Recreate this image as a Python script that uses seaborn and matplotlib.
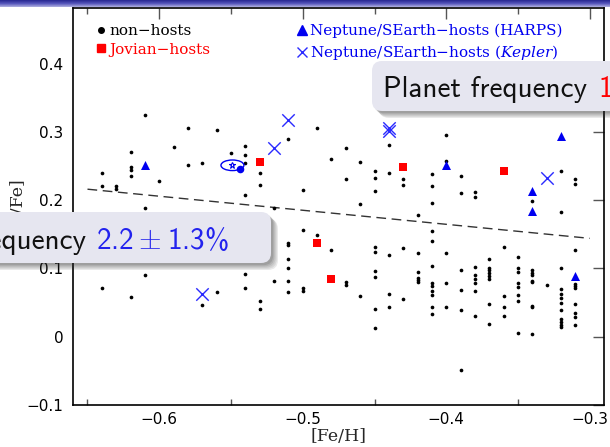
import numpy as np
import pandas as pd
import matplotlib
matplotlib.use("Agg")
import matplotlib.pyplot as plt
import seaborn as sns
from matplotlib.lines import Line2D
from matplotlib.patches import Ellipse, FancyBboxPatch
from matplotlib.ticker import MultipleLocator
from matplotlib.colors import LinearSegmentedColormap

# ---------------- data ----------------
# non-host stars, grouped by [Fe/H] column
nonhost_feh_cols = [-0.64, -0.63, -0.62, -0.61, -0.60, -0.59, -0.58, -0.57, -0.56, -0.55,
                    -0.54, -0.53, -0.52, -0.51, -0.50, -0.49, -0.48, -0.47, -0.46, -0.45,
                    -0.44, -0.43, -0.42, -0.41, -0.40, -0.39, -0.38, -0.37, -0.36, -0.35,
                    -0.34, -0.33, -0.32, -0.31]
nonhost_tife_cols = [
    [0.240, 0.220, 0.072],
    [0.221, 0.216],
    [0.271, 0.248, 0.244, 0.235, 0.058],
    [0.325, 0.188, 0.090],
    [0.228],
    [0.278],
    [0.306, 0.251],
    [0.254, 0.047],
    [0.302, 0.066],
    [0.269],
    [0.279, 0.266, 0.254, 0.208, 0.092, 0.072],
    [0.240, 0.222, 0.053, 0.040],
    [0.188, 0.082],
    [0.289, 0.137, 0.134, 0.114, 0.100, 0.082, 0.065],
    [0.215, 0.156, 0.071, 0.067],
    [0.306, 0.149],
    [0.260, 0.127],
    [0.276, 0.231, 0.080, 0.076],
    [0.256, 0.195, 0.059],
    [0.242, 0.232, 0.213, 0.132, 0.124, 0.096, 0.087, 0.040, 0.013],
    [0.280, 0.240, 0.119, 0.062, 0.043],
    [0.231, 0.222, 0.130, 0.055],
    [0.178, 0.122, 0.095, 0.086, 0.083, 0.080],
    [0.238, 0.220, 0.196, 0.155, 0.140, 0.104, 0.078, 0.074, 0.067, 0.061, 0.043, 0.033],
    [0.295, 0.257, 0.123, 0.078, 0.044],
    [0.235, 0.211, 0.098, 0.069, 0.039, -0.049],
    [0.212, 0.204, 0.102, 0.091, 0.084, 0.078, 0.067, 0.031],
    [0.114, 0.100, 0.097, 0.093, 0.089, 0.085, 0.048, 0.019],
    [0.131, 0.059, 0.044, 0.030],
    [0.116, 0.100, 0.095, 0.079, 0.073, 0.061, 0.052, 0.005],
    [0.198, 0.098, 0.094, 0.091, 0.082, 0.080, 0.045, 0.043, 0.004],
    [0.075],
    [0.242, 0.182, 0.100, 0.070, 0.062, 0.056, 0.050, 0.039, 0.026, 0.021, 0.017, 0.014],
    [0.231, 0.223, 0.127, 0.077, 0.074, 0.071, 0.048, 0.034, 0.029, 0.017],
]

jovian_feh = [-0.53, -0.43, -0.36, -0.49, -0.48]
jovian_tife = [0.256, 0.249, 0.242, 0.137, 0.085]

harps_feh = [-0.61, -0.40, -0.34, -0.34, -0.32, -0.31]
harps_tife = [0.251, 0.251, 0.214, 0.184, 0.294, 0.089]

kepler_feh = [-0.51, -0.52, -0.44, -0.44, -0.33, -0.57]
kepler_tife = [0.317, 0.276, 0.306, 0.301, 0.232, 0.062]

special_feh = [-0.544]
special_tife = [0.245]
special_star_feh = [-0.549]
special_star_tife = [0.251]

trend_feh = [-0.65, -0.30]
trend_tife = [0.216, 0.144]

legend_labels = ["non\u2212hosts", "Jovian\u2212hosts",
                 "Neptune/SEarth\u2212hosts (HARPS)",
                 "Neptune/SEarth\u2212hosts ($\\mathit{Kepler}$)"]

x_ticks = [-0.6, -0.5, -0.4, -0.3]
y_ticks = [-0.1, 0.0, 0.1, 0.2, 0.3, 0.4]

# ---------------- styling ----------------
sns.set_style("white")
plt.rcParams["font.family"] = ["DejaVu Sans"]
plt.rcParams["mathtext.fontset"] = "dejavuserif"

W, H = 610, 447
fig = plt.figure(figsize=(W / 100, H / 100), dpi=100)
fig.patch.set_facecolor("white")
ax = fig.add_axes([73 / W, 1 - 405 / H, 531 / W, 397 / H])

nh_x = [f for f, col in zip(nonhost_feh_cols, nonhost_tife_cols) for _ in col]
nh_y = [v for col in nonhost_tife_cols for v in col]
df_nh = pd.DataFrame({"feh": nh_x, "tife": nh_y})

BLUE = "#0000f0"
sns.scatterplot(data=df_nh, x="feh", y="tife", ax=ax, color="black", s=7,
                linewidth=0, marker="o", legend=False, zorder=3)
sns.lineplot(x=trend_feh, y=trend_tife, ax=ax, color="#333333", lw=1.0,
             dashes=False, zorder=2)
ax.lines[-1].set_dashes([7, 4])
sns.scatterplot(x=jovian_feh, y=jovian_tife, ax=ax, color="#ff0000", marker="s",
                s=30, linewidth=0, legend=False, zorder=4)
sns.scatterplot(x=harps_feh, y=harps_tife, ax=ax, color=BLUE, marker="^",
                s=42, linewidth=0, legend=False, zorder=4)
sns.scatterplot(x=kepler_feh, y=kepler_tife, ax=ax, color="#2a2aff", marker="x",
                s=80, linewidth=1.0, legend=False, zorder=4)
sns.scatterplot(x=special_feh, y=special_tife, ax=ax, color=BLUE, marker="o",
                s=30, linewidth=0, legend=False, zorder=5)
ax.plot(special_star_feh, special_star_tife, marker="*", ms=5, mfc="none",
        mec=BLUE, mew=0.8, ls="none", zorder=5)
ax.add_patch(Ellipse((special_star_feh[0], special_star_tife[0]), 0.016, 0.0155,
                     fill=False, ec=BLUE, lw=1.0, zorder=5))

ax.set_xlim(-0.6601, -0.2901)
ax.set_ylim(-0.1, 0.4813)
ax.set_xticks(x_ticks)
ax.set_yticks(y_ticks)
ax.xaxis.set_minor_locator(MultipleLocator(0.05))
ax.set_xticklabels([f"{t:g}".replace("-", "\u2212") for t in x_ticks])
ax.set_yticklabels([("0" if t == 0 else f"{t:g}").replace("-", "\u2212") for t in y_ticks])
ax.tick_params(which="major", direction="in", length=8, width=1.0, color="#555555",
               top=True, right=True, labelsize=11, labelcolor="black")
ax.tick_params(axis="y", pad=7)
ax.tick_params(axis="x", pad=5)
ax.tick_params(which="minor", direction="in", length=4.5, width=1.0, color="#555555",
               top=True, bottom=True)
ax.tick_params(axis="y", which="minor", left=False, right=False)
for sp in ax.spines.values():
    sp.set_linewidth(1.2)
    sp.set_color("black")
ax.set_xlabel("[Fe/H]", family="DejaVu Serif", fontsize=12.5, labelpad=1)
ax.set_ylabel("[Ti/Fe]", family="DejaVu Serif", fontsize=12.5, labelpad=1)

# legends
h1 = [Line2D([], [], marker="o", color="black", ls="none", ms=4),
      Line2D([], [], marker="s", color="#ff0000", ls="none", ms=5.5)]
h2 = [Line2D([], [], marker="^", color=BLUE, ls="none", ms=6.5),
      Line2D([], [], marker="x", color="#2a2aff", ls="none", ms=7, mew=1.0)]
kw = dict(frameon=False, handlelength=0.6, handletextpad=0.25, borderpad=0,
          borderaxespad=0, labelspacing=0.3, loc="upper left",
          prop={"family": "DejaVu Serif", "size": 11})
leg1 = ax.legend(h1, legend_labels[:2], bbox_to_anchor=((96.5 - 73) / 531, (405 - 24) / 397),
                 labelcolor=["black", "#ff0000"], **kw)
ax.add_artist(leg1)
leg2 = ax.legend(h2, legend_labels[2:], bbox_to_anchor=((297 - 73) / 531, (405 - 24) / 397),
                 labelcolor=[BLUE, BLUE], **kw)

# ---------------- slide overlay ----------------
ov = fig.add_axes([0, 0, 1, 1], zorder=10)
ov.patch.set_alpha(0)
ov.axis("off")
grad = np.linspace(0, 1, 50).reshape(-1, 1)
cm = LinearSegmentedColormap.from_list("bar", ["#262690", "#5555bb", "#b0b0e0"])
ov.imshow(grad, cmap=cm, extent=(0, W, 7, 0), aspect="auto", zorder=1)
ov.set_xlim(0, W)
ov.set_ylim(H, 0)


def slide_box(x, y, w, h):
    for i, a in enumerate([0.10, 0.10, 0.10, 0.12, 0.14]):
        off = 7 - i * 1.2
        ov.add_patch(FancyBboxPatch((x + off, y + off), w, h,
                                    boxstyle="round,pad=0,rounding_size=10",
                                    fc="#303030", ec="none", alpha=a, zorder=2))
    ov.add_patch(FancyBboxPatch((x, y), w, h, boxstyle="round,pad=0,rounding_size=10",
                                fc="#e6e6f0", ec="none", zorder=3))


slide_box(372, 61, 300, 50)
slide_box(-60, 212, 331, 51)

box_font = ["cmss10", "DejaVu Sans"]
ov.text(383, 97, "Planet frequency", color="#111111", fontsize=21, family=box_font,
        ha="left", va="baseline", zorder=4)
ov.text(598, 97, "1", color="#ff0000", fontsize=21, family=box_font,
        ha="left", va="baseline", zorder=4)
ov.text(86, 249, "Planet frequency", color="#111111", fontsize=21, family=box_font,
        ha="right", va="baseline", zorder=4)
ov.text(96.5, 249, r"2.2$\:\pm\:$1.3%", color="#2222ee", fontsize=21, family=box_font,
        math_fontfamily="cm", ha="left", va="baseline", zorder=4)

fig.savefig("out.png", dpi=100)
